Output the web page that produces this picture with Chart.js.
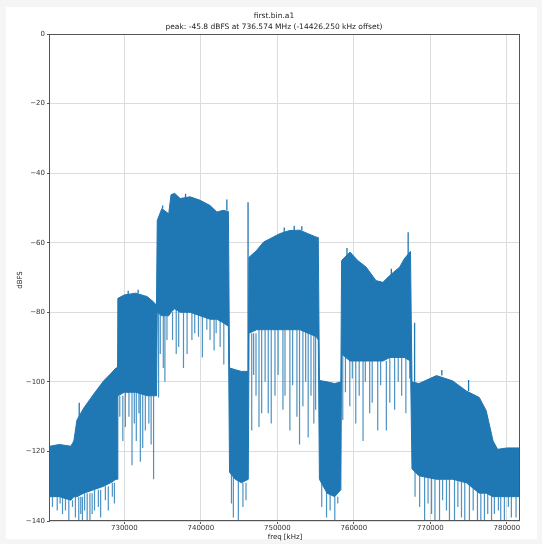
<!DOCTYPE html>
<html>
<head>
<meta charset="utf-8">
<script src="https://cdn.jsdelivr.net/npm/chart.js@4.4.1/dist/chart.umd.min.js"></script>
<style>
  html, body { margin: 0; padding: 0; background: #f5f5f5; }
  canvas { display: block; }
</style>
</head>
<body>
<canvas id="chart" width="542" height="544"></canvas>
<script>
// spectrum envelope (freq in kHz, level in dBFS)
const freqKHz = [
  720280, 721500, 723000, 723400, 723800, 724700, 726000, 727300, 728200, 728900, 729050,
  729150, 730000, 731500, 733000, 733800, 734200,
  734300, 734900, 735800, 736100, 736574, 737300, 738600, 739900, 741200, 742100, 742900, 743600,
  743750, 744500, 745300, 746200,
  746300, 747300, 748200, 749000, 750300, 751600, 752950, 754000, 755100, 755350,
  755500, 756500, 757500, 758300,
  758400, 759500, 760500, 761600, 762900, 763800, 764700, 766000, 766600, 767400,
  767600, 768500, 770800, 772900, 774700, 776400, 777300, 778200, 778800, 780000, 781720
];
const upperDb = [
  -118.5, -118, -118.5, -117, -111, -107.5, -103.5, -99.7, -97.7, -96, -96,
  -76, -75, -74.5, -75.5, -77, -78,
  -53.6, -50.2, -51.7, -46.2, -45.8, -47.3, -46.8, -47.8, -49.3, -51.2, -50.7, -51,
  -96, -96.5, -97, -97,
  -64.2, -62.2, -59.8, -58.9, -57.4, -56.5, -56.4, -57.4, -58.4, -58.5,
  -99.6, -100, -100.5, -100,
  -65.1, -62.7, -65.1, -67, -70.9, -71.4, -69.4, -67, -64.6, -62.5,
  -100, -100.5, -98.2, -99.7, -102.6, -104.5, -108.3, -117, -119.4, -119, -119
];
const lowerDb = [
  -133, -133, -134, -133, -133, -132, -131, -130, -129, -128, -128,
  -104, -103, -103, -104, -104, -104,
  -80, -81, -81, -80, -79, -80, -80, -81, -82, -82, -83, -84,
  -126, -128, -129, -128,
  -86, -85, -85, -85, -85, -85, -85, -86, -87, -88,
  -128, -132, -133, -131,
  -92, -94, -94, -94, -94, -94, -93, -93, -93, -94,
  -125, -127, -128, -128, -129, -132, -132, -133, -133, -133, -133
];

// deep notches below the band
const dipFreq = [
  720600, 721225, 721600, 721915, 722300, 722740, 723220, 723600, 724040, 724300, 724520, 724800,
  725140, 725500, 725790, 726100, 726600, 726900, 727520, 727900, 728430, 728700,
  729400, 729800, 730130, 730600, 731000, 731300, 731560, 731900, 732090, 732400, 732740, 733200, 733500, 733820,
  734470, 734700, 735090, 735300, 735570, 736300, 736780, 737100, 737730, 738200, 738830, 739200,
  739690, 740200, 740780, 741200, 741730, 742000, 742520, 743000,
  744000, 744250, 744900, 745500, 745900,
  746650, 746900, 747210, 747600, 747950, 748400, 748810, 749200, 749690, 750100, 750730, 751000,
  751640, 752000, 752560, 752900, 753340, 753700, 754030, 754400, 754770, 755000,
  755800, 756430, 756900, 757510, 757900,
  758550, 758900, 759470, 759800, 760250, 760700, 761200, 761500, 762070, 762400, 763120, 763500,
  764250, 764700, 765330, 765800, 766250, 766800, 767300,
  768000, 768600, 769250, 769700, 770160, 770600, 771200, 771600, 772110, 772500, 773160, 773600,
  774070, 774500, 775110, 775600, 776160, 776600, 777070, 777500, 778000, 778370, 778900, 779200,
  779680, 780200, 780590, 781200
];
const dipDb = [
  -136, -137, -135, -138, -137, -140, -136, -139, -140, -138, -140, -137,
  -140, -140, -138, -137, -136, -139, -134, -137, -133, -135,
  -110, -117, -113, -110, -124, -112, -117, -109, -123, -119, -114, -112, -118, -128,
  -104.5, -92, -96, -100, -88, -88, -92, -90, -96, -92, -88, -86,
  -87, -93, -85, -88, -91, -86, -90, -95,
  -135, -139, -140, -136, -134,
  -114, -98, -104, -113, -109, -100, -109, -112, -104, -98, -108, -104,
  -114, -101, -110, -118, -107, -100, -116, -104, -112, -108,
  -136, -139, -137, -140, -135,
  -111, -103, -107, -99, -112, -104, -117, -100, -109, -106, -114, -101,
  -114, -106, -108, -100, -104, -109, -99,
  -133, -136, -140, -135, -138, -140, -140, -134, -137, -140, -140, -136,
  -139, -140, -140, -137, -140, -140, -140, -138, -140, -138, -137, -140,
  -140, -136, -139, -139
];

// narrow peaks above the band
const spikeFreq = [
  724100, 730500, 731800, 735000, 738000, 743400, 746170,
  750900, 752200, 753200, 759100, 764900, 767100, 767940, 771500, 775000
];
const spikeDb = [
  -106, -73.8, -73.5, -49.3, -45.9, -47.6, -48.4,
  -55.6, -55.1, -55.3, -61.5, -67.5, -57, -83, -96.6, -99.5
];

const xTicks = [730000, 740000, 750000, 760000, 770000, 780000];
const yTicks = [0, -20, -40, -60, -80, -100, -120, -140];

const titleLines = ['first.bin.a1', 'peak: -45.8 dBFS at 736.574 MHz (-14426.250 kHz offset)'];
const xLabel = 'freq [kHz]';
const yLabel = 'dBFS';

const BLUE = '#1f77b4';
const FONT = '"DejaVu Sans", sans-serif';

// value of the band at the breakpoint at or before f
function bandAt(f, arr) {
  let v = arr[0];
  for (let i = 0; i < freqKHz.length; i++) {
    if (freqKHz[i] <= f) v = arr[i];
  }
  return v;
}

function segments(freqs, levels, base) {
  const out = [];
  freqs.forEach((f, i) => {
    out.push({ x: f, y: bandAt(f, base) });
    out.push({ x: f, y: levels[i] });
    out.push({ x: f, y: null });
  });
  return out;
}

const fmt = v => (v < 0 ? '\u2212' + Math.abs(v) : String(v));

const framePlugin = {
  id: 'frame',
  beforeDraw(chart) {
    const c = chart.ctx;
    c.save();
    c.fillStyle = '#f5f5f5';
    c.fillRect(0, 0, chart.width, chart.height);
    c.fillStyle = '#ffffff';
    c.fillRect(6, 7, 531, 532);
    c.restore();
  },
  afterDraw(chart) {
    const c = chart.ctx;
    const a = chart.chartArea;
    c.save();
    c.strokeStyle = '#555';
    c.lineWidth = 1;
    c.strokeRect(Math.round(a.left) - 0.5, Math.round(a.top) + 0.5,
      Math.round(a.right - a.left), Math.round(a.bottom - a.top) - 1);

    c.fillStyle = '#222';
    c.textAlign = 'center';
    c.textBaseline = 'middle';
    c.font = '7.5px ' + FONT;
    c.fillText(titleLines[0], 274, 16.5);
    c.fillText(titleLines[1], 274, 27.5);

    c.font = '7px ' + FONT;
    c.fillText(xLabel, 285, 537);
    c.translate(20, 280);
    c.rotate(-Math.PI / 2);
    c.fillText(yLabel, 0, 0);
    c.restore();
  }
};

new Chart(document.getElementById('chart'), {
  type: 'line',
  data: {
    datasets: [
      {
        data: freqKHz.map((f, i) => ({ x: f, y: upperDb[i] })),
        borderColor: BLUE, borderWidth: 1, pointRadius: 0, fill: false
      },
      {
        data: freqKHz.map((f, i) => ({ x: f, y: lowerDb[i] })),
        borderColor: BLUE, borderWidth: 1, pointRadius: 0,
        backgroundColor: BLUE, fill: '-1'
      },
      {
        data: segments(dipFreq, dipDb, lowerDb),
        borderColor: 'rgba(31,119,180,0.8)', borderWidth: 1.2, pointRadius: 0,
        spanGaps: false, fill: false
      },
      {
        data: segments(spikeFreq, spikeDb, upperDb),
        borderColor: BLUE, borderWidth: 1.3, pointRadius: 0,
        spanGaps: false, fill: false
      }
    ]
  },
  options: {
    responsive: false,
    animation: false,
    layout: { padding: { left: 0, top: 34, right: 22, bottom: 0 } },
    plugins: { legend: { display: false }, tooltip: { enabled: false }, title: { display: false } },
    scales: {
      x: {
        type: 'linear', min: 720280, max: 781720,
        afterBuildTicks: s => { s.ticks = xTicks.map(v => ({ value: v })); },
        afterFit: s => { s.height = 23; },
        grid: { color: '#dcdcdc', tickColor: '#555', tickLength: 3 },
        border: { display: false },
        ticks: { color: '#333', padding: 0, maxRotation: 0, font: { family: FONT, size: 7 }, callback: v => String(v) }
      },
      y: {
        type: 'linear', min: -140, max: 0,
        afterBuildTicks: s => { s.ticks = yTicks.map(v => ({ value: v })); },
        afterFit: s => { s.width = 50; },
        grid: { color: '#dcdcdc', tickColor: '#555', tickLength: 3 },
        border: { display: false },
        ticks: { color: '#333', padding: 2, font: { family: FONT, size: 7 }, callback: v => fmt(v) }
      }
    }
  },
  plugins: [framePlugin]
});
</script>
</body>
</html>
